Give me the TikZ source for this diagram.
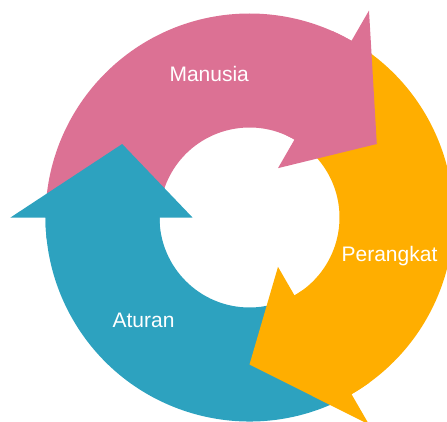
\documentclass[tikz,border=0pt]{standalone}
\usepackage{fontspec}
\setmainfont{Liberation Sans}
\definecolor{cycpink}{RGB}{220,113,148}
\definecolor{cycorange}{RGB}{255,174,0}
\definecolor{cycteal}{RGB}{45,162,191}
\tikzset{
  lbl/.style={text=white, anchor=base, inner sep=0pt, font=\fontsize{21}{25}\selectfont},
}
% ring radii: outer, inner, middle; arrow heads reach from headin to headout
\def\Ro{204}\def\Ri{90}\def\Rm{147}\def\Hout{239}\def\Hin{57}
\newcommand{\cycshaft}[3]{% colour, start angle, end angle (clockwise)
  \fill[#1] (#2:\Ro) arc[start angle=#2, end angle=#3, radius=\Ro]
    -- (#3:\Ri) arc[start angle=#3, end angle=#2, radius=\Ri] -- cycle;}
\newcommand{\cychead}[2]{% colour, base angle; tip lies 30 degrees further on
  \pgfmathsetmacro{\tipang}{#2-30}
  \pgfmathsetmacro{\backang}{#2+6}
  \fill[#1] (\backang:\Ro) arc[start angle=\backang, end angle=#2, radius=\Ro]
    -- (#2:\Hout) -- (\tipang:\Rm) -- (#2:\Hin) -- (#2:\Ri)
    arc[start angle=#2, end angle=\backang, radius=\Ri] -- cycle;}
\begin{document}
\begin{tikzpicture}[x=1pt,y=1pt]
\useasboundingbox (-249.5,-203.5) rectangle (197.5,217.5);
% shafts of the three curved arrows
\cycshaft{cycpink}{180}{60}
\cycshaft{cycorange}{60}{-60}
\cycshaft{cycteal}{-60}{-180}
% heads on top, each overlapping a little of its own shaft
\cychead{cycpink}{60}
\cychead{cycorange}{-60}
\cychead{cycteal}{180}
% labels
\node[lbl] (manusia) at (-40.3,136.5) {Manusia};
\node[lbl] (perangkat) at (140,-44.2) {Perangkat};
\node[lbl] (aturan) at (-106,-109.8) {Aturan};
\end{tikzpicture}
\end{document}
